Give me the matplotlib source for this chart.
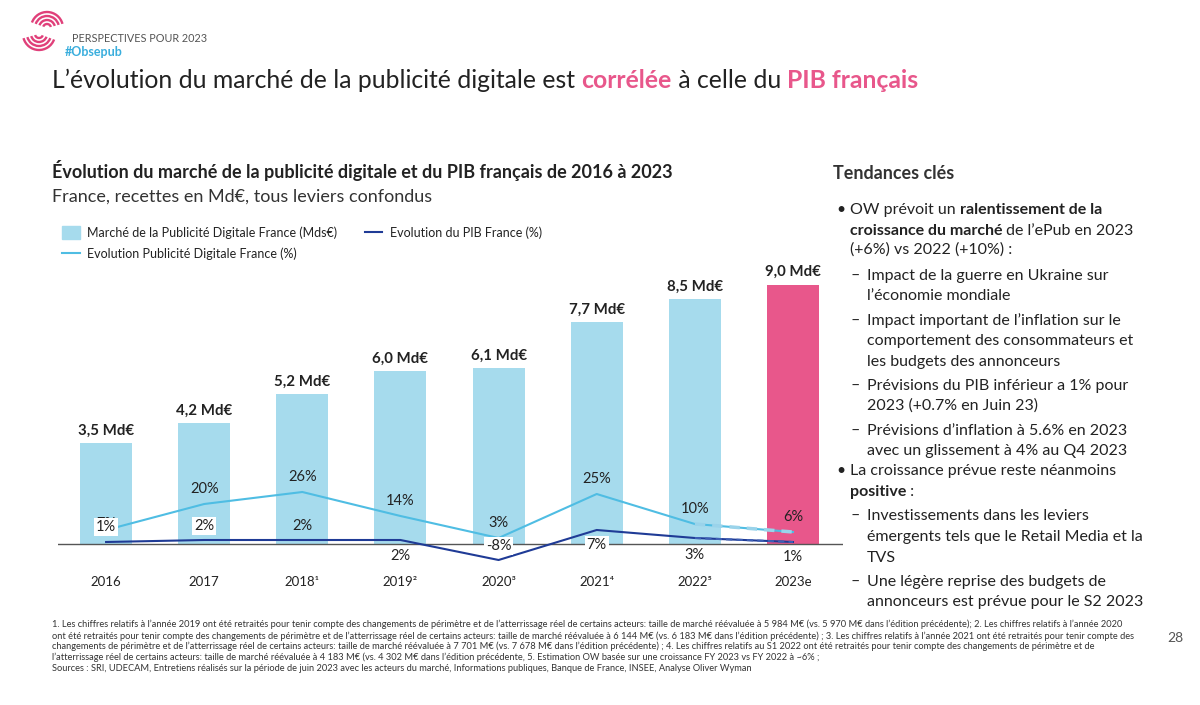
import numpy as np
import matplotlib.pyplot as plt
from matplotlib.patches import Arc, Patch
from matplotlib.lines import Line2D

plt.rcParams['font.family'] = ['Lato', 'DejaVu Sans']

#%% Data
years = ['2016', '2017', '2018¹', '2019²', '2020³', '2021⁴', '2022⁵', '2023e']
marche = [3.5, 4.2, 5.2, 6.0, 6.1, 7.7, 8.5, 9.0]      # Md€
evol_pub = [7, 20, 26, 14, 3, 25, 10, 6]                # %
evol_pib = [1, 2, 2, 2, -8, 7, 3, 1]                    # %

# label placement (px above/below the point) and boxes
pub_off = [6, 15, 15, 15, 15, 15, 15, 15]
pib_off = [15, 14, 14, -16, 14, -15, -17, -15]
pib_box = [True, True, False, False, True, True, False, False]

BAR = '#a6dbed'
PINK = '#e8578b'
CYAN = '#4fbde3'
NAVY = '#1f3b96'
TXT = '#222222'

W, H = 1200, 705
fig = plt.figure(figsize=(12, 7.05), dpi=100)
bg = fig.add_axes([0, 0, 1, 1])
bg.set_xlim(0, W)
bg.set_ylim(H, 0)
bg.axis('off')
renderer = fig.canvas.get_renderer()


def runs(x, y, parts, size, **kw):
    # draw a line made of (text, weight, color) pieces one after the other
    for txt, weight, color in parts:
        t = bg.text(x, y, txt, fontsize=size, fontweight=weight, color=color,
                    va='baseline', ha='left', **kw)
        x += t.get_window_extent(renderer).width
    return x


#%% Header (logo swirl)
for r in [4, 8, 12, 16]:
    bg.add_patch(Arc((47, 28), 2 * r, 2 * r, theta1=200, theta2=345, color='#e0407a', lw=1.7))
    bg.add_patch(Arc((39, 34), 2 * r, 2 * r, theta1=20, theta2=165, color='#e0407a', lw=1.7))
bg.text(72, 42, 'PERSPECTIVES POUR 2023', fontsize=7.8, color='#555555', va='baseline')
bg.text(65, 56, '#Obsepub', fontsize=9, color='#3aaedd', fontweight='bold', va='baseline')

runs(52, 88, [('L’évolution du marché de la publicité digitale est ', 'normal', TXT),
              ('corrélée', 'bold', PINK),
              (' à celle du ', 'normal', TXT),
              ('PIB français', 'bold', PINK)], 17.8)

bg.text(52, 178, 'Évolution du marché de la publicité digitale et du PIB français de 2016 à 2023',
        fontsize=13, fontweight='bold', color=TXT, va='baseline')
bg.text(52, 202, 'France, recettes en Md€, tous leviers confondus', fontsize=13,
        color='#333333', va='baseline')

#%% Chart
ax = fig.add_axes([58 / W, 1 - 565 / H, 785 / W, 295 / H])
ax.patch.set_visible(False)
x = np.arange(len(years))
colors = [BAR] * (len(years) - 1) + [PINK]
ax.bar(x, marche, width=0.53, color=colors, zorder=1)
for xi, v in zip(x, marche):
    ax.annotate(f'{v:.1f} Md€'.replace('.', ','), (xi, v), xytext=(0, 4),
                textcoords='offset points', ha='center', va='bottom',
                fontsize=10.8, fontweight='bold', color=TXT)
ax.axhline(0, color='#555555', lw=1, zorder=2)
ax.set_xlim(-0.49, len(years) - 0.49)
ax.set_ylim(-21 / 28.8, (295 - 21) / 28.8)
ax.set_xticks(x, years)
ax.tick_params(axis='x', length=0, pad=8, labelsize=9.5, labelcolor=TXT)
ax.set_yticks([])
for s in ax.spines.values():
    s.set_visible(False)

ax2 = ax.twinx()
ax2.set_ylim(-10.5, 137)
ax2.plot(x, evol_pub, color=CYAN, lw=1.5, zorder=3)
ax2.plot(x, evol_pib, color=NAVY, lw=1.5, zorder=3)
# estimate segment 2022 -> 2023e, dashed overlay
ax2.plot(x[-2:], evol_pub[-2:], color='#9ad3ea', lw=2.5, ls=(0, (3, 2)), zorder=3)
ax2.plot(x[-2:], evol_pib[-2:], color='#3d5fb5', lw=1.5, ls=(0, (3, 2)), zorder=3)
ax2.set_yticks([])
for s in ax2.spines.values():
    s.set_visible(False)

for xi, v, off in zip(x, evol_pub, pub_off):
    ax2.annotate(f'{v}%', (xi, v), xytext=(0, off * 0.72), textcoords='offset points',
                 ha='center', va='center', fontsize=10.5, color=TXT, zorder=4)
for xi, v, off, box in zip(x, evol_pib, pib_off, pib_box):
    bbox = dict(facecolor='white', edgecolor='none', pad=1.5) if box else None
    ax2.annotate(f'{v}%', (xi, v), xytext=(0, off * 0.72), textcoords='offset points',
                 ha='center', va='center', fontsize=10.5, color=TXT, bbox=bbox, zorder=5)

handles = [Patch(color=BAR, label='Marché de la Publicité Digitale France (Mds€)'),
           Line2D([], [], color=CYAN, lw=1.5, label='Evolution Publicité Digitale France (%)'),
           Line2D([], [], color=NAVY, lw=1.5, label='Evolution du PIB France (%)')]
fig.legend(handles=handles, ncol=2, loc='upper left', bbox_to_anchor=(56 / W, 1 - 220 / H),
           frameon=False, fontsize=9, handlelength=1.4, handleheight=1.2,
           handletextpad=0.6, columnspacing=2.2, labelspacing=0.7, borderpad=0,
           labelcolor=TXT)

#%% Right column
bg.text(833, 179, 'Tendances clés', fontsize=12.9, fontweight='bold', color='#333333', va='baseline')
R = 11.5
lines = [
    (209, 'b', [('OW prévoit un ', 'normal'), ('ralentissement de la', 'bold')]),
    (230, '', [('croissance du marché', 'bold'), (' de l’ePub en 2023', 'normal')]),
    (249, '', [('(+6%) vs 2022 (+10%) :', 'normal')]),
    (275, 'd', [('Impact de la guerre en Ukraine sur', 'normal')]),
    (295, 'dd', [('l’économie mondiale', 'normal')]),
    (320, 'd', [('Impact important de l’inflation sur le', 'normal')]),
    (340, 'dd', [('comportement des consommateurs et', 'normal')]),
    (361, 'dd', [('les budgets des annonceurs', 'normal')]),
    (385, 'd', [('Prévisions du PIB inférieur a 1% pour', 'normal')]),
    (405, 'dd', [('2023 (+0.7% en Juin 23)', 'normal')]),
    (430, 'd', [('Prévisions d’inflation à 5.6% en 2023', 'normal')]),
    (450, 'dd', [('avec un glissement à 4% au Q4 2023', 'normal')]),
    (470, 'b', [('La croissance prévue reste néanmoins', 'normal')]),
    (491, '', [('positive', 'bold'), (' :', 'normal')]),
    (515, 'd', [('Investissements dans les leviers', 'normal')]),
    (536, 'dd', [('émergents tels que le Retail Media et la', 'normal')]),
    (557, 'dd', [('TVS', 'normal')]),
    (581, 'd', [('Une légère reprise des budgets de', 'normal')]),
    (601, 'dd', [('annonceurs est prévue pour le S2 2023', 'normal')]),
]
for yc, kind, parts in lines:
    yb = yc + 5
    if kind == 'b':
        bg.text(836, yb, '•', fontsize=R, color=TXT, va='baseline')
    if kind == 'd':
        bg.text(850, yb, '–', fontsize=R, color=TXT, va='baseline')
    x0 = 867 if kind in ('d', 'dd') else 850
    runs(x0, yb, [(t, w, TXT) for t, w in parts], R)

#%% Footnotes
notes = [
    '1. Les chiffres relatifs à l’année 2019 ont été retraités pour tenir compte des changements de périmètre et de l’atterrissage réel de certains acteurs: taille de marché réévaluée à 5 984 M€ (vs. 5 970 M€ dans l’édition précédente); 2. Les chiffres relatifs à l’année 2020',
    'ont été retraités pour tenir compte des changements de périmètre et de l’atterrissage réel de certains acteurs: taille de marché réévaluée à 6 144 M€ (vs. 6 183 M€ dans l’édition précédente) ; 3. Les chiffres relatifs à l’année 2021 ont été retraités pour tenir compte des',
    'changements de périmètre et de l’atterrissage réel de certains acteurs: taille de marché réévaluée à 7 701 M€ (vs. 7 678 M€ dans l’édition précédente) ; 4. Les chiffres relatifs au S1 2022 ont été retraités pour tenir compte des changements de périmètre et de',
    'l’atterrissage réel de certains acteurs: taille de marché réévaluée à 4 183 M€ (vs. 4 302 M€ dans l’édition précédente, 5. Estimation OW basée sur une croissance FY 2023 vs FY 2022 à ~6% ;',
    'Sources : SRI, UDECAM, Entretiens réalisés sur la période de juin 2023 avec les acteurs du marché, Informations publiques, Banque de France, INSEE, Analyse Oliver Wyman',
]
for yc, note in zip([624, 636, 646, 657, 668], notes):
    bg.text(52, yc + 3, note, fontsize=6.65, color='#333333', va='baseline')
bg.text(1167, 642, '28', fontsize=10, color='#555555', va='baseline')

fig.savefig('out.png', dpi=100)
